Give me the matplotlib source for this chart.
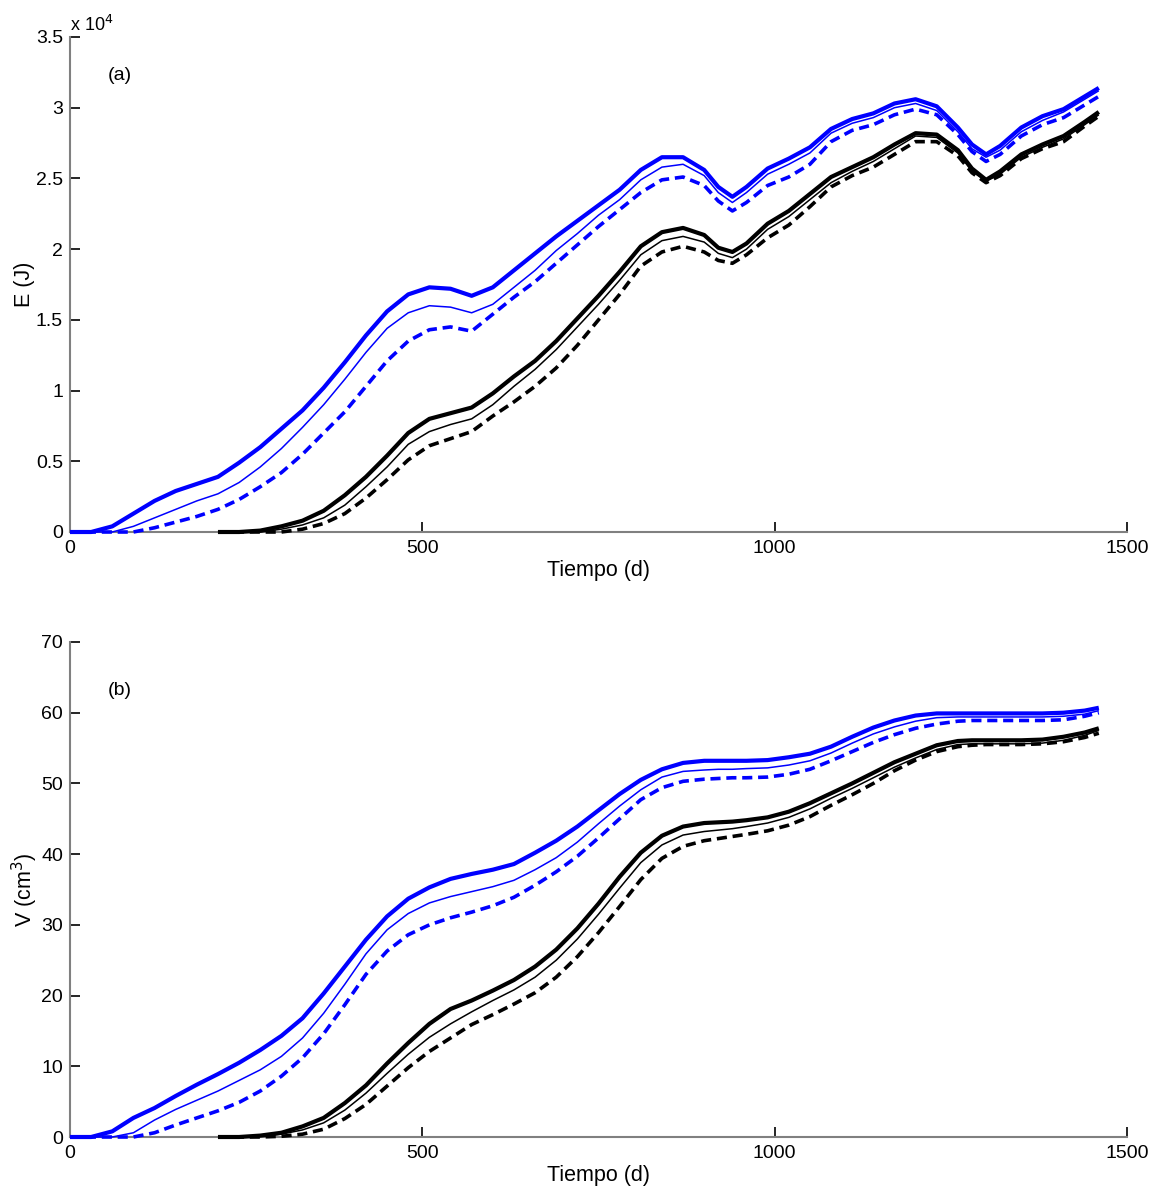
import numpy as np
import matplotlib
matplotlib.use("Agg")
import matplotlib.pyplot as plt

plt.rcParams['font.family'] = ['Liberation Sans', 'DejaVu Sans']

# time grid (days)
t = [0, 30, 60, 90, 120, 150, 180, 210, 240, 270, 300, 330, 360, 390, 420, 450, 480, 510,
     540, 570, 600, 630, 660, 690, 720, 750, 780, 810, 840, 870, 900, 920, 940, 960, 990,
     1020, 1050, 1080, 1110, 1140, 1170, 1200, 1230, 1260, 1280, 1300, 1320, 1350, 1380,
     1410, 1440, 1460]
nan = float('nan')

# ---- Panel (a): energy, units of 1e4 J ----
E_blue_thick = [0, 0, 0.04, 0.13, 0.22, 0.29, 0.34, 0.39, 0.49, 0.60, 0.73, 0.86, 1.02, 1.20,
                1.39, 1.56, 1.68, 1.73, 1.72, 1.67, 1.73, 1.85, 1.97, 2.09, 2.20, 2.31, 2.42,
                2.56, 2.65, 2.65, 2.56, 2.44, 2.37, 2.44, 2.57, 2.64, 2.72, 2.85, 2.92, 2.96,
                3.03, 3.06, 3.01, 2.86, 2.74, 2.67, 2.73, 2.86, 2.94, 2.99, 3.08, 3.14]
E_blue_thin = [0, 0, 0.0, 0.04, 0.10, 0.16, 0.22, 0.27, 0.35, 0.46, 0.59, 0.74, 0.90, 1.08,
               1.27, 1.44, 1.55, 1.60, 1.59, 1.55, 1.61, 1.73, 1.85, 1.99, 2.11, 2.24, 2.35,
               2.49, 2.58, 2.60, 2.52, 2.40, 2.33, 2.40, 2.53, 2.60, 2.68, 2.82, 2.89, 2.93,
               3.00, 3.03, 2.98, 2.83, 2.71, 2.65, 2.70, 2.83, 2.91, 2.97, 3.06, 3.12]
E_blue_dash = [0, 0, 0, 0.0, 0.03, 0.07, 0.11, 0.16, 0.23, 0.32, 0.42, 0.55, 0.70, 0.85,
               1.03, 1.21, 1.35, 1.43, 1.45, 1.42, 1.54, 1.66, 1.77, 1.90, 2.03, 2.16, 2.28,
               2.40, 2.49, 2.51, 2.45, 2.34, 2.27, 2.33, 2.45, 2.51, 2.60, 2.76, 2.84, 2.88,
               2.95, 2.99, 2.95, 2.81, 2.69, 2.62, 2.67, 2.80, 2.88, 2.93, 3.02, 3.08]
E_black_thick = [nan] * 7 + [0, 0.0, 0.01, 0.04, 0.08, 0.15, 0.26, 0.39, 0.54, 0.70, 0.80,
                 0.84, 0.88, 0.98, 1.10, 1.21, 1.35, 1.51, 1.67, 1.84, 2.02, 2.12, 2.15, 2.10,
                 2.01, 1.98, 2.04, 2.18, 2.27, 2.39, 2.51, 2.58, 2.65, 2.74, 2.82, 2.81, 2.70,
                 2.57, 2.49, 2.55, 2.67, 2.74, 2.80, 2.90, 2.97]
E_black_thin = [nan] * 7 + [0, 0, 0.0, 0.02, 0.05, 0.10, 0.19, 0.32, 0.46, 0.62, 0.71,
                0.76, 0.80, 0.90, 1.03, 1.15, 1.29, 1.45, 1.61, 1.78, 1.96, 2.06, 2.09, 2.05,
                1.97, 1.94, 2.00, 2.14, 2.23, 2.35, 2.47, 2.55, 2.62, 2.71, 2.80, 2.79, 2.68,
                2.55, 2.48, 2.53, 2.65, 2.72, 2.78, 2.88, 2.95]
E_black_dash = [nan] * 7 + [0, 0, 0, 0.0, 0.02, 0.06, 0.13, 0.24, 0.37, 0.51, 0.61,
                0.66, 0.71, 0.82, 0.92, 1.03, 1.16, 1.32, 1.50, 1.68, 1.88, 1.98, 2.02, 1.98,
                1.92, 1.90, 1.96, 2.08, 2.17, 2.30, 2.44, 2.52, 2.58, 2.67, 2.76, 2.76, 2.66,
                2.54, 2.47, 2.52, 2.64, 2.71, 2.76, 2.87, 2.94]

# ---- Panel (b): volume, cm^3 ----
V_blue_thick = [0, 0, 0.8, 2.7, 4.1, 5.8, 7.4, 8.9, 10.5, 12.3, 14.3, 16.8, 20.3, 24.1, 27.9,
                31.2, 33.7, 35.3, 36.5, 37.2, 37.8, 38.6, 40.2, 41.9, 43.9, 46.2, 48.5, 50.5,
                52.0, 52.9, 53.2, 53.2, 53.2, 53.2, 53.3, 53.7, 54.2, 55.2, 56.6, 57.9, 58.9,
                59.6, 59.9, 59.9, 59.9, 59.9, 59.9, 59.9, 59.9, 60.0, 60.3, 60.7]
V_blue_thin = [0, 0, 0, 0.6, 2.4, 3.9, 5.2, 6.5, 8.0, 9.5, 11.4, 14.0, 17.5, 21.6, 25.9, 29.3,
               31.6, 33.1, 34.0, 34.7, 35.4, 36.3, 37.8, 39.5, 41.7, 44.3, 46.8, 49.1, 50.9,
               51.7, 51.9, 52.0, 52.0, 52.1, 52.2, 52.6, 53.2, 54.3, 55.7, 57.0, 58.0, 58.8,
               59.3, 59.4, 59.4, 59.4, 59.4, 59.4, 59.4, 59.5, 59.8, 60.3]
V_blue_dash = [0, 0, 0, 0, 0.6, 1.7, 2.7, 3.7, 4.9, 6.5, 8.6, 11.2, 14.6, 18.7, 23.0, 26.3,
               28.6, 30.0, 31.0, 31.8, 32.7, 33.9, 35.6, 37.5, 39.7, 42.3, 45.0, 47.7, 49.4,
               50.3, 50.6, 50.7, 50.8, 50.8, 50.9, 51.3, 52.0, 53.2, 54.5, 55.8, 56.9, 57.8,
               58.4, 58.8, 58.9, 58.9, 58.9, 58.9, 58.9, 59.0, 59.5, 60.0]
V_black_thick = [nan] * 7 + [0, 0, 0.2, 0.6, 1.5, 2.7, 4.8, 7.3, 10.4, 13.3, 16.0, 18.1, 19.3,
                 20.7, 22.2, 24.1, 26.5, 29.5, 33.0, 36.8, 40.2, 42.6, 43.9, 44.4, 44.5, 44.6,
                 44.8, 45.2, 46.0, 47.2, 48.6, 50.0, 51.5, 53.0, 54.2, 55.4, 56.0, 56.1, 56.1,
                 56.1, 56.1, 56.2, 56.6, 57.2, 57.8]
V_black_thin = [nan] * 7 + [0, 0, 0.1, 0.4, 1.0, 2.0, 3.8, 6.2, 9.0, 11.7, 14.1, 16.0, 17.7,
                19.3, 20.8, 22.6, 25.0, 28.0, 31.5, 35.2, 38.8, 41.3, 42.7, 43.2, 43.4, 43.6,
                43.9, 44.4, 45.2, 46.4, 47.9, 49.3, 50.8, 52.3, 53.6, 54.8, 55.5, 55.6, 55.6,
                55.6, 55.6, 55.7, 56.1, 56.8, 57.5]
V_black_dash = [nan] * 7 + [0, 0, 0, 0.1, 0.4, 1.1, 2.6, 4.6, 7.2, 9.8, 12.1, 14.0, 15.9,
                17.3, 18.8, 20.4, 22.6, 25.5, 28.9, 32.6, 36.4, 39.4, 41.1, 41.9, 42.2, 42.5,
                42.8, 43.3, 44.1, 45.3, 46.9, 48.4, 50.0, 51.8, 53.3, 54.5, 55.2, 55.4, 55.5,
                55.5, 55.5, 55.6, 55.9, 56.5, 57.1]

x_ticks = [0, 500, 1000, 1500]
E_ticks = [0, 0.5, 1, 1.5, 2, 2.5, 3, 3.5]
V_ticks = [0, 10, 20, 30, 40, 50, 60, 70]

W, H = 1156, 1190
fig = plt.figure(figsize=(W / 100, H / 100), dpi=100)
L = 70 / W
Wd = (1127 - 70) / W
axA = fig.add_axes([L, 1 - 532 / H, Wd, 495 / H])
axB = fig.add_axes([L, 1 - 1137 / H, Wd, 495 / H])

BLUE = '#0000ff'
THICK = 3.0
THIN = 1.1
DASHW = 2.6
DASH = (2.8, 1.6)


def draw(ax, bt, bth, bd, kt, kth, kd):
    kw = dict(clip_on=False, solid_capstyle='butt', dash_capstyle='butt',
              solid_joinstyle='round', dash_joinstyle='round')
    ax.plot(t, bd, color=BLUE, lw=DASHW, dashes=DASH, zorder=3, **kw)
    ax.plot(t, bth, color=BLUE, lw=THIN, zorder=4, **kw)
    ax.plot(t, bt, color=BLUE, lw=THICK, zorder=5, **kw)
    ax.plot(t, kd, color='black', lw=DASHW, dashes=DASH, zorder=3, **kw)
    ax.plot(t, kth, color='black', lw=THIN, zorder=4, **kw)
    ax.plot(t, kt, color='black', lw=THICK, zorder=5, **kw)


def style(ax, yticks, ylim):
    ax.set_xlim(0, 1500)
    ax.set_ylim(*ylim)
    ax.set_xticks(x_ticks)
    ax.set_yticks(yticks)
    ax.set_xticklabels([str(v) for v in x_ticks])
    ax.set_yticklabels(['%g' % v for v in yticks])
    for s in ('top', 'right'):
        ax.spines[s].set_visible(False)
    for s in ('left', 'bottom'):
        ax.spines[s].set_color('#808080')
        ax.spines[s].set_linewidth(1.5)
    ax.tick_params(direction='in', length=7, width=1.2, color='black',
                   labelsize=14, pad=6)
    ax.tick_params(axis='y', pad=5)


draw(axA, E_blue_thick, E_blue_thin, E_blue_dash, E_black_thick, E_black_thin, E_black_dash)
style(axA, E_ticks, (0, 3.5))
axA.set_xlabel('Tiempo (d)', fontsize=15.5, labelpad=2)
axA.set_ylabel('E (J)', fontsize=15.5, labelpad=1)
axA.text(0.047, 0.923, '(a)', transform=axA.transAxes, fontsize=14, ha='center', va='center')
axA.text(0.0, 1.005, r'x 10$^4$', transform=axA.transAxes, fontsize=13, ha='left', va='bottom')

draw(axB, V_blue_thick, V_blue_thin, V_blue_dash, V_black_thick, V_black_thin, V_black_dash)
style(axB, V_ticks, (0, 70))
axB.set_xlabel('Tiempo (d)', fontsize=15.5, labelpad=2)
axB.set_ylabel(r'V (cm$^3$)', fontsize=15.5, labelpad=1)
axB.text(0.047, 0.903, '(b)', transform=axB.transAxes, fontsize=14, ha='center', va='center')

fig.savefig('out.png', dpi=100)
